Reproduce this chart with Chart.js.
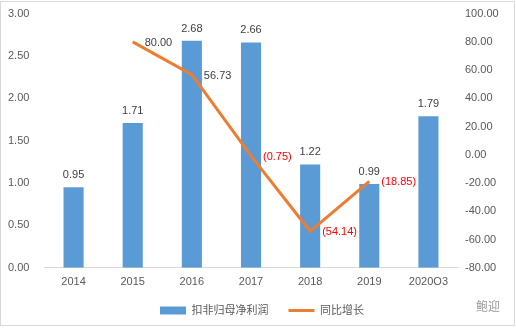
<!DOCTYPE html>
<html>
<head>
<meta charset="utf-8">
<script src="https://cdn.jsdelivr.net/npm/chart.js@4"></script>
<style>
  body { margin: 0; background: #fff; }
  #wrap { position: relative; width: 516px; height: 328px; }
  #frame { position: absolute; left: 0; top: 1px; width: 513px; height: 323px; border: 1px solid #d9d9d9; pointer-events: none; }
  #mark { position: absolute; left: 476px; top: 297px; font: 12px "Noto Sans CJK SC", sans-serif; color: #9a9a9a; }
</style>
</head>
<body>
<div id="wrap">
  <canvas id="profitChart" width="516" height="328"></canvas>
  <div id="frame"></div>
  <div id="mark">鲍迎</div>
</div>
<script>
// 扣非归母净利润 (左轴) 与同比增长 (右轴, %)
const years = ['2014', '2015', '2016', '2017', '2018', '2019', '2020Q3'];
const netProfit = [0.95, 1.71, 2.68, 2.66, 1.22, 0.99, 1.79];
const yoyGrowth = [null, 80.00, 56.73, -0.75, -54.14, -18.85, null];

const FONT = '"Liberation Sans", "Noto Sans CJK SC", sans-serif';

// value labels above bars and to the right of line points
const valueLabels = {
    id: 'valueLabels',
    afterDatasetsDraw(chart) {
        const ctx = chart.ctx;
        ctx.save();
        ctx.font = '11px ' + FONT;
        ctx.textBaseline = 'middle';
        chart.data.datasets.forEach((ds, i) => {
            const meta = chart.getDatasetMeta(i);
            meta.data.forEach((el, j) => {
                const v = ds.data[j];
                if (v === null) return;
                if (meta.type === 'bar') {
                    ctx.textAlign = 'center';
                    ctx.fillStyle = '#404040';
                    ctx.fillText(v.toFixed(2), el.x, el.y - 12);
                } else {
                    ctx.textAlign = 'left';
                    if (v < 0) {
                        ctx.fillStyle = '#ff0000';
                        ctx.fillText('(' + Math.abs(v).toFixed(2) + ')', el.x + 12, el.y + 1);
                    } else {
                        ctx.fillStyle = '#404040';
                        ctx.fillText(v.toFixed(2), el.x + 12, el.y + 1);
                    }
                }
            });
        });
        ctx.restore();
    }
};

const ctx = document.getElementById('profitChart').getContext('2d');
new Chart(ctx, {
    type: 'bar',
    data: {
        labels: years,
        datasets: [{
            type: 'bar',
            label: '扣非归母净利润',
            data: netProfit,
            backgroundColor: '#5b9bd5',
            borderWidth: 0,
            barPercentage: 0.34,
            categoryPercentage: 1,
            pointStyle: 'rect',
            yAxisID: 'y',
            order: 1
        }, {
            type: 'line',
            label: '同比增长',
            data: yoyGrowth,
            borderColor: '#ed7d31',
            backgroundColor: '#ed7d31',
            borderWidth: 3,
            pointRadius: 0,
            pointStyle: 'line',
            tension: 0,
            yAxisID: 'y1',
            order: 0
        }]
    },
    options: {
        responsive: false,
        animation: false,
        layout: { padding: { top: 0, left: 8, right: 0, bottom: 2 } },
        plugins: {
            tooltip: { enabled: false },
            legend: {
                position: 'bottom',
                labels: {
                    usePointStyle: true,
                    pointStyleWidth: 26,
                    boxHeight: 8,
                    padding: 20,
                    color: '#595959',
                    font: { size: 11, family: FONT },
                    sort: (a, b) => a.datasetIndex - b.datasetIndex
                }
            }
        },
        scales: {
            x: {
                grid: { display: false, drawTicks: false },
                border: { display: true, color: '#d9d9d9' },
                ticks: { color: '#595959', padding: 8, font: { size: 11, family: FONT } },
                afterFit(scale) { scale.height -= 12; }
            },
            y: {
                position: 'left',
                min: 0,
                max: 3,
                grid: { display: false, drawTicks: false },
                border: { display: false },
                ticks: {
                    stepSize: 0.5,
                    padding: 7,
                    crossAlign: 'far',
                    color: '#595959',
                    font: { size: 11, family: FONT },
                    callback: v => v.toFixed(2)
                },
                afterFit(scale) { scale.width = 36; }
            },
            y1: {
                position: 'right',
                min: -80,
                max: 100,
                grid: { display: false, drawTicks: false },
                border: { display: false },
                ticks: {
                    stepSize: 20,
                    padding: 7,
                    color: '#595959',
                    font: { size: 11, family: FONT },
                    callback: v => v.toFixed(2)
                },
                afterFit(scale) { scale.width = 58; }
            }
        }
    },
    plugins: [valueLabels]
});
</script>
</body>
</html>
